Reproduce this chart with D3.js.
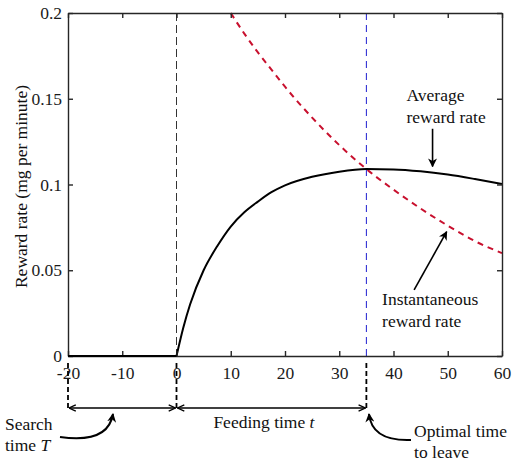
<!DOCTYPE html>
<html>
<head>
<meta charset="utf-8">
<script src="https://cdn.jsdelivr.net/npm/d3@7"></script>
</head>
<body style="margin:0;padding:0;background:#fff">
<svg id="chart" width="515" height="467" style="display:block"></svg>
<script>
// ---- data ----
const xTicks = [-20, -10, 0, 10, 20, 30, 40, 50, 60];
const yTicks = [0, 0.05, 0.1, 0.15, 0.2];

// average reward rate (black solid): zero while searching, then rises
const searchTime = [-20, 0];
const searchRate = [0, 0];
const feedTime = [0, 1.25, 2.5, 5, 7.5, 10, 12.5, 15, 17.5, 20, 25, 30, 35, 40, 45, 50, 55, 60];
const avgRate  = [0, 0.0165, 0.030, 0.050, 0.064, 0.0755, 0.0838, 0.090, 0.0955, 0.0995, 0.1045, 0.1075, 0.109, 0.1088, 0.1077, 0.1058, 0.1032, 0.1003];

// instantaneous reward rate (red dashed)
const instTime = [10, 12.5, 15, 17.5, 20, 25, 30, 35, 40, 45, 50, 55, 60];
const instRate = [0.2, 0.188, 0.177, 0.167, 0.157, 0.139, 0.123, 0.109, 0.097, 0.086, 0.076, 0.067, 0.06];

// reference times
const patchArrival = 0;
const searchStart = -20;
const optimalLeave = 35;

// ---- layout ----
const W = 515, H = 467;
const margin = { top: 13, right: 13, bottom: 111, left: 68 };
const iw = W - margin.left - margin.right;
const ih = H - margin.top - margin.bottom;
const FONT = "Liberation Serif";
const fs = 17.5;

const svg = d3.select("#chart").attr("font-family", FONT);
const g = svg.append("g").attr("transform", `translate(${margin.left},${margin.top})`);

const x = d3.scaleLinear().domain([-20, 60]).range([0, iw]);
const y = d3.scaleLinear().domain([0, 0.2]).range([ih, 0]);

const axisColor = "#262626";

// vertical reference lines
g.append("line")
  .attr("x1", x(patchArrival)).attr("x2", x(patchArrival))
  .attr("y1", 0).attr("y2", ih)
  .attr("stroke", "#333").attr("stroke-width", 1)
  .attr("stroke-dasharray", "8,4");
g.append("line")
  .attr("x1", x(optimalLeave)).attr("x2", x(optimalLeave))
  .attr("y1", 0).attr("y2", ih)
  .attr("stroke", "#1f1fd0").attr("stroke-width", 1)
  .attr("stroke-dasharray", "7,5");

// curves
const line = d3.line().x((d) => x(d[0])).y((d) => y(d[1]));
const lineSmooth = d3.line().x((d) => x(d[0])).y((d) => y(d[1])).curve(d3.curveMonotoneX);

g.append("path")
  .datum(d3.zip(instTime, instRate))
  .attr("d", lineSmooth)
  .attr("fill", "none").attr("stroke", "#c8102e").attr("stroke-width", 2)
  .attr("stroke-dasharray", "6,5");

g.append("path")
  .datum(d3.zip(feedTime, avgRate))
  .attr("d", lineSmooth)
  .attr("fill", "none").attr("stroke", "#000").attr("stroke-width", 2);

// axes (box with inward ticks)
function styleAxis(sel) {
  sel.attr("font-family", FONT).attr("font-size", fs);
  sel.select(".domain").attr("stroke", axisColor).attr("stroke-width", 1.4);
  sel.selectAll(".tick line").attr("stroke", axisColor).attr("stroke-width", 1.4);
  sel.selectAll("text").attr("fill", "#1a1a1a").attr("font-family", FONT).attr("font-size", fs);
}
g.append("g").attr("transform", `translate(0,${ih})`)
  .call(d3.axisBottom(x).tickValues(xTicks).tickSizeInner(-5).tickSizeOuter(0).tickPadding(11).tickFormat((d) => String(d)))
  .call(styleAxis);
g.append("g")
  .call(d3.axisTop(x).tickValues(xTicks).tickSizeInner(-5).tickSizeOuter(0).tickFormat(""))
  .call(styleAxis);
g.append("g")
  .call(d3.axisLeft(y).tickValues(yTicks).tickSizeInner(-5).tickSizeOuter(0).tickPadding(6).tickFormat((d) => String(d)))
  .call(styleAxis);
g.append("g").attr("transform", `translate(${iw},0)`)
  .call(d3.axisRight(y).tickValues(yTicks).tickSizeInner(-5).tickSizeOuter(0).tickFormat(""))
  .call(styleAxis);

// flat zero segment during search (drawn on top of axis)
g.append("path")
  .datum(d3.zip(searchTime, searchRate))
  .attr("d", line)
  .attr("fill", "none").attr("stroke", "#000").attr("stroke-width", 2.2);

// y label
svg.append("text")
  .attr("transform", `translate(27,${margin.top + ih / 2 + 2}) rotate(-90)`)
  .attr("text-anchor", "middle")
  .attr("font-family", FONT).attr("font-size", fs).attr("fill", "#111")
  .text("Reward rate (mg per minute)");

// arrow markers
const defs = svg.append("defs");
defs.append("marker").attr("id", "headFill")
  .attr("viewBox", "0 0 10 10").attr("refX", 9).attr("refY", 5)
  .attr("markerWidth", 9).attr("markerHeight", 9).attr("markerUnits", "userSpaceOnUse")
  .attr("orient", "auto")
  .append("path").attr("d", "M0,0 L10,5 L0,10 L3,5 Z").attr("fill", "#000");
defs.append("marker").attr("id", "headOpen")
  .attr("viewBox", "0 0 10 10").attr("refX", 9.5).attr("refY", 5)
  .attr("markerWidth", 8).attr("markerHeight", 8).attr("markerUnits", "userSpaceOnUse")
  .attr("orient", "auto-start-reverse")
  .append("path").attr("d", "M1,1 L9.5,5 L1,9").attr("fill", "none").attr("stroke", "#000").attr("stroke-width", 1.6);

// text helper
function label(parent, px, py, str) {
  return parent.append("text").attr("x", px).attr("y", py)
    .attr("font-family", FONT).attr("font-size", fs).attr("fill", "#111").text(str);
}

// in-plot annotations
const ann = svg.append("g");
const ax = (v) => margin.left + x(v);
const ay = (v) => margin.top + y(v);

label(ann, ax(42.4), ay(0.1485), "Average");
label(ann, ax(42.4), ay(0.136), "reward rate");
ann.append("line")
  .attr("x1", ax(47.2)).attr("y1", ay(0.1325))
  .attr("x2", ax(47.2)).attr("y2", ay(0.1105))
  .attr("stroke", "#000").attr("stroke-width", 1.6).attr("marker-end", "url(#headFill)");

label(ann, ax(37.9), ay(0.0297), "Instantaneous");
label(ann, ax(37.9), ay(0.017), "reward rate");
ann.append("line")
  .attr("x1", ax(43.8)).attr("y1", ay(0.0385))
  .attr("x2", ax(49.8)).attr("y2", ay(0.0725))
  .attr("stroke", "#000").attr("stroke-width", 1.6).attr("marker-end", "url(#headFill)");

// below-axis annotations
const base = margin.top + ih;   // pixel row of y = 0
const below = svg.append("g");
[searchStart, patchArrival, optimalLeave].forEach((t) => {
  below.append("line")
    .attr("x1", ax(t)).attr("x2", ax(t))
    .attr("y1", base + 7).attr("y2", base + 53)
    .attr("stroke", "#000").attr("stroke-width", 1.8).attr("stroke-dasharray", "5,3");
});
const arrY = base + 52;
[[searchStart, patchArrival], [patchArrival, optimalLeave]].forEach(([a, b]) => {
  below.append("line")
    .attr("x1", ax(a) + 1).attr("x2", ax(b) - 1)
    .attr("y1", arrY).attr("y2", arrY)
    .attr("stroke", "#000").attr("stroke-width", 1.6)
    .attr("marker-start", "url(#headOpen)").attr("marker-end", "url(#headOpen)");
});

const feed = label(below, ax(6.8), base + 72, "");
feed.append("tspan").text("Feeding time ");
feed.append("tspan").attr("font-style", "italic").text("t");

label(below, 5, base + 74, "Search");
const st = label(below, 5, base + 95, "");
st.append("tspan").text("time ");
st.append("tspan").attr("font-style", "italic").text("T");

label(below, ax(43.8), base + 81, "Optimal time");
label(below, ax(43.8), base + 102, "to leave");

// curved arrows
below.append("path")
  .attr("d", `M60,${base + 81} C95,${base + 86} 110,${base + 76} 113,${base + 58}`)
  .attr("fill", "none").attr("stroke", "#000").attr("stroke-width", 2)
  .attr("marker-end", "url(#headFill)");
below.append("path")
  .attr("d", `M411,${base + 84} C385,${base + 85} 371,${base + 77} 369,${base + 58}`)
  .attr("fill", "none").attr("stroke", "#000").attr("stroke-width", 2)
  .attr("marker-end", "url(#headFill)");
</script>
</body>
</html>
